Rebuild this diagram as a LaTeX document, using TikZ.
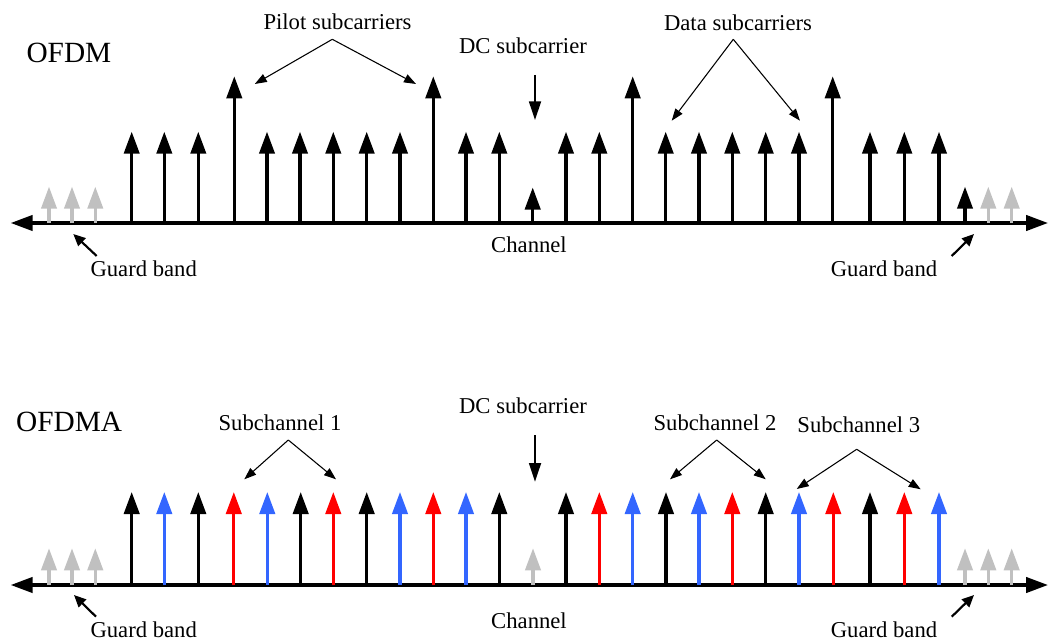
\documentclass[tikz,border=0pt]{standalone}
\usepackage{fontspec}
\setmainfont{Liberation Serif}
\usetikzlibrary{arrows.meta}
\definecolor{carblue}{RGB}{51,102,255}
\definecolor{carred}{RGB}{255,0,0}
\definecolor{carnull}{RGB}{192,192,192}
\begin{document}
\begin{tikzpicture}[x=0.75pt,y=-0.75pt,
  bigtip/.style={Triangle[length=16.5pt,width=11.5pt]},
  axisline/.style={line width=2.5pt,{Triangle[length=16.5pt,width=11.5pt]}-{Triangle[length=16.5pt,width=11.5pt]}},
  carrier/.style={line width=2.3pt,-{Triangle[length=16.5pt,width=11.5pt]}},
  callout/.style={line width=0.8pt,-{Triangle[length=9pt,width=6.5pt]}},
  guardptr/.style={line width=1.6pt,-{Triangle[length=9pt,width=8pt]}},
  lbl/.style={anchor=base,inner sep=0pt,font=\fontsize{17}{20}\selectfont},
  ttl/.style={anchor=base,inner sep=0pt,font=\fontsize{22}{26}\selectfont}]
\useasboundingbox (0,0) rectangle (1049,642);

% ---------------- OFDM ----------------
\node[ttl] (ofdm) at (68.9,63) {OFDM};
\coordinate (axAl) at (10.7,223);
\coordinate (axAr) at (1048,223);
\draw[axisline] (axAl) -- (axAr);

\foreach \x/\h/\c [count=\i] in {
  49/186.7/carnull, 72/186.7/carnull, 95.3/186.7/carnull,
  131.7/131.7/black, 164.3/131.7/black, 198.3/131.7/black, 234.3/76.3/black,
  267/131.7/black, 300/131.7/black, 333.3/131.7/black, 366.7/131.7/black, 400/131.7/black,
  433.3/76.3/black, 466/131.7/black, 499.3/131.7/black, 532.7/187.5/black,
  566/131.7/black, 599.3/131.7/black, 632.7/76.3/black,
  665.7/131.7/black, 699/131.7/black, 732.3/131.7/black, 765.7/131.7/black, 799/131.7/black,
  832.7/76.3/black, 870/131.7/black, 904.3/131.7/black, 939/131.7/black,
  965/186.7/black, 988.3/186.7/carnull, 1011.7/186.7/carnull}{
  \coordinate (ca\i) at (\x,223);
  \coordinate (cb\i) at (\x,\h);
  \draw[carrier,\c] (ca\i) -- (cb\i);
}

\node[lbl] (pilot) at (337.5,30) {Pilot subcarriers};
\coordinate (pilotapex) at (332.3,39.3);
\coordinate (pilotl) at (254.8,84);
\coordinate (pilotr) at (416,84);
\draw[callout] (pilotapex) -- (pilotl);
\draw[callout] (pilotapex) -- (pilotr);

\node[lbl] (data) at (738,30.7) {Data subcarriers};
\coordinate (dataapex) at (733.3,39.3);
\coordinate (datal) at (671.7,120.7);
\coordinate (datar) at (800,120.7);
\draw[callout] (dataapex) -- (datal);
\draw[callout] (dataapex) -- (datar);

\node[lbl] (dcA) at (523,53.3) {DC subcarrier};
\coordinate (dcAs) at (535,75);
\coordinate (dcAe) at (535,120);
\draw[callout,line width=1.3pt,-{Triangle[length=14pt,width=9pt]}] (dcAs) -- (dcAe);

\node[lbl] (chA) at (529,252.7) {Channel};

\node[lbl] (gAl) at (143.7,276.7) {Guard band};
\coordinate (gAls) at (96.7,256);
\coordinate (gAle) at (73.3,234);
\draw[guardptr] (gAls) -- (gAle);
\node[lbl] (gAr) at (884,276.7) {Guard band};
\coordinate (gArs) at (951.7,256);
\coordinate (gAre) at (974,234);
\draw[guardptr] (gArs) -- (gAre);

% ---------------- OFDMA ----------------
\node[ttl] (ofdma) at (69.2,431.7) {OFDMA};
\coordinate (axBl) at (10.7,585);
\coordinate (axBr) at (1048,585);
\draw[axisline] (axBl) -- (axBr);

\foreach \x/\h/\c [count=\i] in {
  49/548.3/carnull, 72/548.3/carnull, 95.3/548.3/carnull,
  131.7/492/black, 164.3/492/carblue, 198.3/492/black, 233.8/492/carred,
  267.3/492/carblue, 300.7/492/black, 333.3/492/carred, 366.7/492/black,
  400/492/carblue, 433.3/492/carred, 466/492/carblue, 499.3/492/black,
  533/548.3/carnull,
  566/492/black, 599.3/492/carred, 632.7/492/carblue, 666/492/black,
  699/492/carblue, 732.3/492/carred, 765.7/492/black, 799/492/carblue,
  833.3/492/carred, 870/492/black, 904.3/492/carred, 939/492/carblue,
  965/548.3/carnull, 988.3/548.3/carnull, 1011.7/548.3/carnull}{
  \coordinate (da\i) at (\x,585);
  \coordinate (db\i) at (\x,\h);
  \draw[carrier,\c] (da\i) -- (db\i);
}

\node[lbl] (sub1) at (280,430) {Subchannel 1};
\coordinate (sub1apex) at (288.3,440);
\coordinate (sub1l) at (244.3,479.3);
\coordinate (sub1r) at (336,479.3);
\draw[callout] (sub1apex) -- (sub1l);
\draw[callout] (sub1apex) -- (sub1r);

\node[lbl] (sub2) at (715,430.7) {Subchannel 2};
\coordinate (sub2apex) at (716.7,440);
\coordinate (sub2l) at (670,479.3);
\coordinate (sub2r) at (765.7,479.3);
\draw[callout] (sub2apex) -- (sub2l);
\draw[callout] (sub2apex) -- (sub2r);

\node[lbl] (sub3) at (858.8,432) {Subchannel 3};
\coordinate (sub3apex) at (856.7,449.3);
\coordinate (sub3l) at (796.7,489);
\coordinate (sub3r) at (920.7,489.3);
\draw[callout] (sub3apex) -- (sub3l);
\draw[callout] (sub3apex) -- (sub3r);

\node[lbl] (dcB) at (523,413.3) {DC subcarrier};
\coordinate (dcBs) at (535,435);
\coordinate (dcBe) at (535,481.7);
\draw[callout,line width=1.3pt,-{Triangle[length=14pt,width=9pt]}] (dcBs) -- (dcBe);

\node[lbl] (chB) at (529,628.3) {Channel};

\node[lbl] (gBl) at (143.7,637.3) {Guard band};
\coordinate (gBls) at (96,616.7);
\coordinate (gBle) at (74,595);
\draw[guardptr] (gBls) -- (gBle);
\node[lbl] (gBr) at (884,637.3) {Guard band};
\coordinate (gBrs) at (951.7,616.7);
\coordinate (gBre) at (974,595);
\draw[guardptr] (gBrs) -- (gBre);
\end{tikzpicture}
\end{document}
